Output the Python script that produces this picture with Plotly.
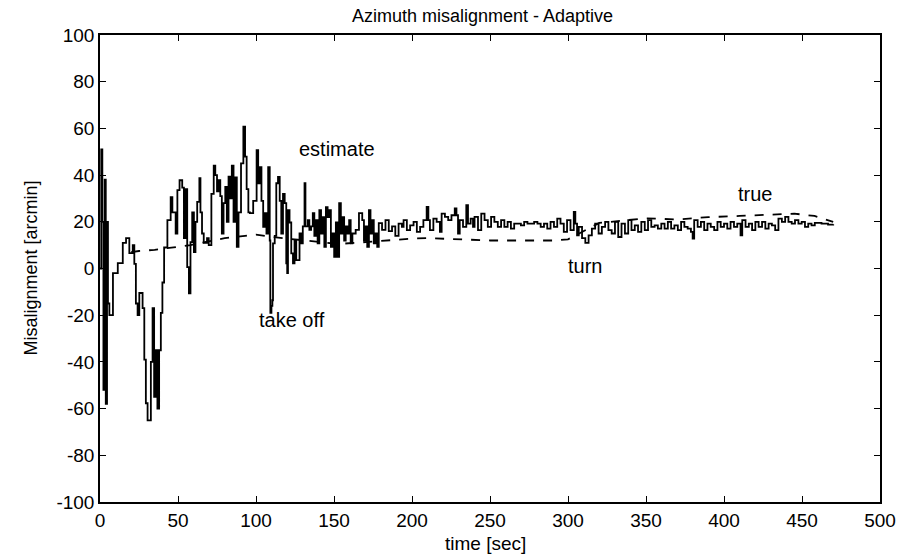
import plotly.graph_objects as go

# ---- data ----
est_time = [0, 0.8, 1.5, 2.2, 3.0, 3.7, 4.5, 5.1, 6.0, 8.3, 11.4, 14.6, 16.7, 18.8, 21.0, 22.0, 23.0, 24.1,
            25.2, 27.3, 28.4, 29.4, 30.5, 32.6, 33.7, 34.7, 35.8, 36.8, 37.9, 39.0, 40.0, 41.1, 43.2, 45.3,
            46.4, 48.5, 49.6, 51.0, 52.7, 53.8, 54.8, 55.9, 57.0, 58.0, 59.1, 60.2, 61.2, 62.3, 63.7, 64.4,
            65.4, 66.5, 68.6, 69.7, 71.4, 72.9, 73.9, 75.0, 76.0, 77.1, 78.1, 79.2, 80.3, 81.3, 82.4, 83.4,
            84.5, 85.6, 86.6, 87.7, 88.8, 90.4, 91.9, 93.0, 94.0, 95.1,
            96.1, 98.2, 100.4, 101.4, 102.5, 103.5, 104.6, 105.6, 106.7, 107.8, 108.8, 109.2, 109.9, 110.5,
            110.9, 112.0, 113.0, 114.1, 115.2, 116.2, 117.3, 118.4, 119.4, 120.0, 120.5, 121.5, 122.6, 123.7,
            124.7, 125.8, 127.9, 129.0, 130.0, 131.1, 131.7, 133.2, 134.2, 135.3, 136.4, 137.4, 138.5, 139.5,
            140.6, 141.7, 142.7, 143.8, 144.8, 145.9, 147.0, 148.0, 149.1, 150.1, 151.2, 152.2, 153.3, 154.4,
            155.4, 156.5, 157.5, 158.6, 159.7, 160.7, 161.8, 163.9, 166.0, 168.1, 169.2, 170.2, 171.3, 172.4,
            173.4, 174.5, 175.5, 176.6, 177.7, 178.7, 180.8, 183.0, 185.1, 187.2, 189.3,
            191.4, 193.5, 194.6, 196.7, 198.8, 201.0, 203.1, 205.2, 207.3, 209.4, 210.5, 211.5, 213.7, 215.8,
            217.9, 219.0, 221.1, 223.2, 225.3, 227.4, 228.5, 229.5, 230.6, 232.7, 234.8, 235.9, 237.6, 239.1,
            240.1, 242.3, 244.4, 246.5, 248.6, 250.7, 252.8, 255.0, 257.1, 259.2, 261.3, 263.4, 265.5, 267.7,
            269.8, 271.9, 274.0, 276.1, 278.3, 280.4, 282.5, 284.6, 286.7, 288.8, 291.0, 293.1, 295.2, 297.3,
            299.4, 301.6, 303.7, 304.7, 305.8, 306.9, 309.0, 311.1, 313.2, 315.3, 317.4, 319.6, 321.7, 323.8,
            325.9, 328.0, 330.1, 332.2, 334.3, 336.5, 338.6, 340.7, 342.8, 344.9, 347.0, 349.2, 351.3, 353.4,
            355.5, 357.6, 359.8, 361.9, 364.0, 366.1, 368.2, 370.4, 372.5, 374.6, 376.7, 378.8, 379.9, 380.9,
            383.1, 385.2, 387.3, 389.4, 391.5, 393.7, 395.8, 397.9, 400.0, 402.1, 404.2, 406.4, 408.5, 410.6,
            411.7, 413.8, 415.9, 418.0, 420.1, 422.2, 424.4, 426.5, 428.6, 430.7, 432.8, 434.9, 437.1, 439.2,
            441.3, 443.4, 445.5, 447.7, 449.8, 451.9, 454.0, 456.1, 458.2, 462.5, 466.7, 470.0]
est_value = [0, 51, 20, -52, 38, -58, 20, -15, -20, -2, 2.3, 11, 13, 6.6, 10, 2, -15, -20,
             -10.5, -17, -39, -57.7, -65, -40, -17, -55, -35, -60, -35, -19, -6, 9, 20.7, 30.6,
             24, 15, 33.6, 37.8, 34.6, 13, 34, 0.6, -10.6, 11.3, 24, 7, 20, 28.5, 38.7, 24,
             15, 11, 13, 10, 32, 44, 40, 33, 37.8, 31, 15, 28, 35, 20, 39.3, 30,
             44, 20, 39, 9.3, 24, 45, 60.7, 47.9, 34, 24,
             23.7, 29, 50.7, 36.5, 43.4, 29, 17.8, 23.7, 15, 43.4, 12, -19, -16, -13.6,
             10.8, 14, 36.5, 39.2, 29, 15, 32, 28, 2.2, -2, 25, 19.7, 6.5, 2.2,
             12, 3.6, 15, 10.8, 18, 36.5, 18, 20.7, 16.5, 18, 23.7, 14, 20.7, 10.8,
             25, 15, 22, 9.3, 26.3, 22, 25, 9.3, 15, 5, 19.7, 5, 28, 15,
             22, 12, 18, 15, 20.7, 10.8, 15, 16.5, 23.7, 20.7, 12, 18, 9.3, 25,
             15, 20.7, 10.8, 15, 9.3, 19.4, 16.5, 20.7, 16, 18, 14,
             19.2, 17.8, 20.7, 16.4, 18.5, 20, 15.7, 17.8, 20.7, 26.4, 20.7, 16.4, 21.4, 20,
             15.7, 23.5, 22.1, 20.7, 22.8, 25.7, 22.8, 15, 20.7, 17.8, 27.1, 19.2, 21.4, 17.8,
             22.1, 16.4, 23.5, 20.7, 17.8, 22.1, 20, 17.8, 20.7, 17.8, 20, 17.1, 19.2, 19.2,
             18.5, 20, 19.2, 19.2, 20, 19.2, 17.8, 19.2, 17.1, 20, 17.8, 21.4, 19.2, 15.7,
             20.7, 16.4, 24.2, 19.2, 14.2, 17.8, 13, 11, 14.2, 17.1, 19.2, 15, 17.8, 20,
             16.4, 15, 20, 13.5, 19.2, 15, 20.7, 16.4, 18.5, 15.7, 20, 16.4, 20.7, 17.8,
             18.5, 17.1, 19.2, 17.1, 20, 17.1, 18.5, 16.4, 20, 17.8, 17.1, 15.7, 12.8, 20.7,
             17.8, 20, 16.4, 19.2, 17.8, 16.4, 20, 17.8, 19.2, 17.1, 20, 17.8, 19.2, 14.2,
             20.7, 17.8, 19.2, 16.4, 20, 17.8, 20, 17.1, 19.2, 18.5, 16.4, 21.4, 20, 22.1,
             20, 19.2, 20.7, 19.2, 20, 17.8, 19.2, 18.5, 19.5, 19.2, 18.8, 19]

true_time = [20, 25, 35, 45, 58, 68, 80, 93, 100, 110, 120, 136, 153, 172, 190, 200, 210, 230, 250,
             270, 290, 300, 310, 320, 335, 350, 370, 390, 410, 430, 445, 458, 470]
true_value = [7, 7.5, 8, 9, 10, 11.4, 13, 14, 14.5, 13.5, 12.8, 11.4, 10.5, 11.4, 12.5, 12.8, 13, 12.5, 12,
              12, 12, 12.5, 16, 19.5, 20.5, 21.5, 21, 22, 22.5, 23, 23.5, 22.5, 20]

x_ticks = [0, 50, 100, 150, 200, 250, 300, 350, 400, 450, 500]
y_ticks = [-100, -80, -60, -40, -20, 0, 20, 40, 60, 80, 100]

labels = ["estimate", "take off", "turn", "true"]
label_x = [152, 123, 311, 420]
label_y = [51, -22, 1, 32]

FONT = "Liberation Sans, Arial, sans-serif"

fig = go.Figure()
fig.add_trace(go.Scatter(x=est_time, y=est_value, mode="lines",
                         line=dict(color="black", width=1.8, shape="hv"), showlegend=False))
fig.add_trace(go.Scatter(x=true_time, y=true_value, mode="lines",
                         line=dict(color="black", width=1.8, dash="dash"), showlegend=False))

for t, lx, ly in zip(labels, label_x, label_y):
    fig.add_annotation(x=lx, y=ly, xref="x", yref="y", text=t, showarrow=False,
                       font=dict(family=FONT, size=20, color="black"))

fig.add_annotation(x=0.491, y=1, xref="paper", yref="paper", yshift=19, yanchor="middle",
                   text="Azimuth misalignment - Adaptive",
                   showarrow=False, font=dict(family=FONT, size=18, color="black"))
fig.add_annotation(x=0.494, y=0, xref="paper", yref="paper", yshift=-41, yanchor="middle",
                   text="time [sec]",
                   showarrow=False, font=dict(family=FONT, size=19, color="black"))
fig.add_annotation(x=0, y=0.5, xref="paper", yref="paper", xshift=-70, xanchor="center", yanchor="middle",
                   text="Misalignment [arcmin]",
                   textangle=-90, showarrow=False, font=dict(family=FONT, size=18, color="black"))

axis_common = dict(showline=True, mirror="ticks", linecolor="black", linewidth=1.5,
                   ticks="inside", ticklen=6, tickwidth=1.2, tickcolor="black",
                   showgrid=False, zeroline=False,
                   tickfont=dict(family=FONT, size=19, color="black"))
fig.update_xaxes(range=[0, 500], tickvals=x_ticks, ticktext=[str(v) for v in x_ticks], **axis_common)
fig.update_yaxes(range=[-100, 100], tickvals=y_ticks, ticktext=[str(v) for v in y_ticks], **axis_common)

fig.update_layout(width=908, height=557, margin=dict(l=100, r=20, t=35, b=55),
                  plot_bgcolor="white", paper_bgcolor="white")

fig.write_html("out.html", config={"displayModeBar": False},
               post_script="document.body.style.margin='0px';")
